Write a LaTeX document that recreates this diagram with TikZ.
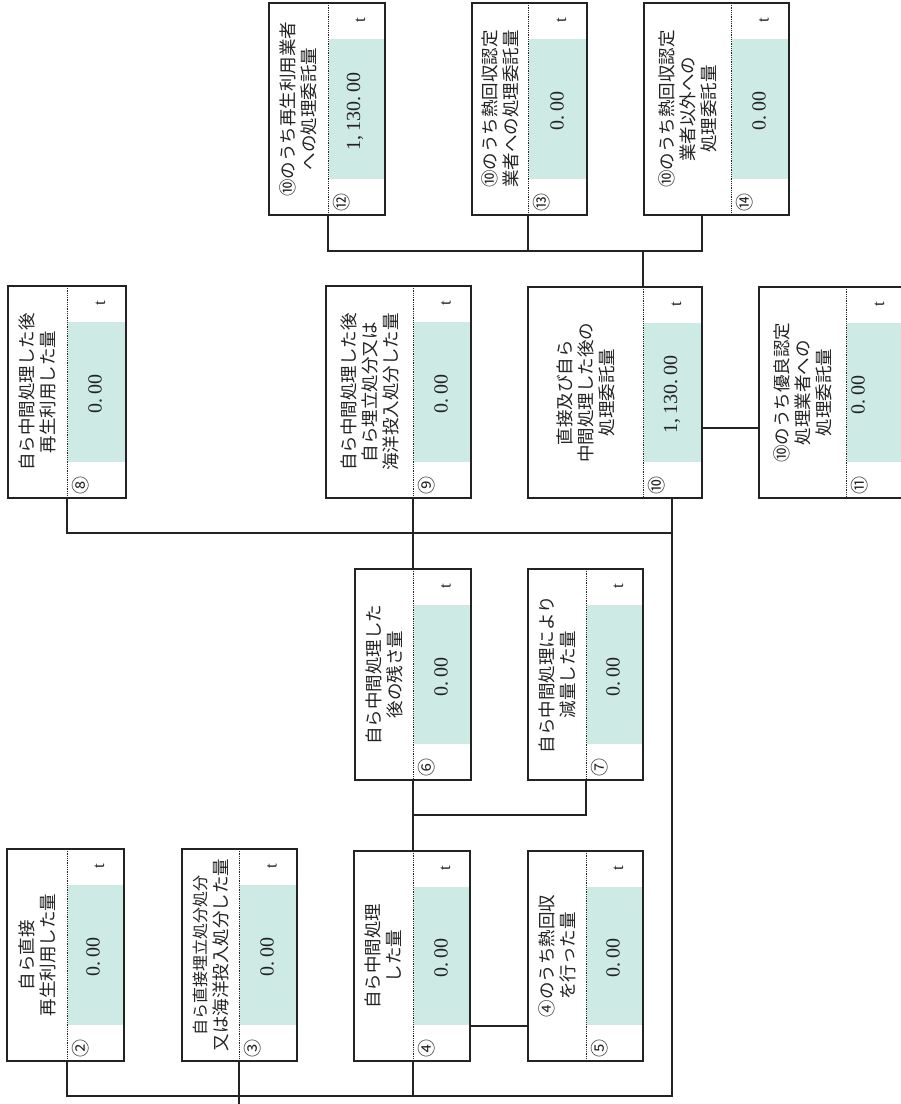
\documentclass[tikz,border=0pt]{standalone}
\usepackage{fontspec}
\newfontfamily\jpf{Noto Sans CJK JP}
\newfontfamily\numf{Liberation Serif}
\usetikzlibrary{fit}
\definecolor{shadec}{RGB}{206,234,228}
\definecolor{inkc}{RGB}{35,35,35}
\tikzset{
 boxst/.style={draw=inkc, line width=1.4pt, inner sep=0pt},
 dotst/.style={draw=inkc, line width=0.8pt, dash pattern=on 0.9pt off 0.9pt},
 titlest/.style={font=\jpf\fontsize{17.5}{21}\selectfont, text=inkc, align=center, inner sep=0pt},
 numst/.style={font=\jpf\fontsize{18}{18}\selectfont, text=inkc, inner sep=0pt},
 valst/.style={font=\numf\fontsize{20}{20}\selectfont, text=inkc, inner sep=0pt},
 unitst/.style={font=\numf\fontsize{17}{17}\selectfont, text=inkc, inner sep=0pt},
 link/.style={draw=inkc, line width=1.3pt},
}
\newcommand{\vzero}{0.\kern4pt00}
\newcommand{\vbig}{1,\kern4pt130.\kern4pt00}
% #1 name, #2 x1, #3 y1, #4 x2, #5 y2, #6 dotted x, #7 circled number, #8 value x, #9 title; value text in \curval
\newcommand{\wbox}[9]{%
 \coordinate (#1d) at (#6,#3);
 \fill[shadec] ({#6+0.6},{#3+36}) rectangle ({#4-0.6},{#5-36});
 \draw[dotst] (#6,#3) -- (#6,#5);
 \node[titlest, rotate=90] (#1t) at ({(#2+#6)/2},{(#3+#5)/2}) {#9};
 \node[numst, rotate=90] (#1n) at ({#6+14},{#5-13}) {#7};
 \node[valst, rotate=90] (#1v) at (#8,{(#3+#5)/2+2}) {\curval};
 \node[unitst, rotate=90] (#1u) at ({(#6+#4)/2+4},{#3+17}) {t};
 \node[boxst, fit={(#2,#3) (#4,#5)}] (#1) {};
}
\begin{document}
\begin{tikzpicture}[x=1pt,y=-1pt]
\useasboundingbox[fill=white] (0,0) rectangle (901,1104);
\let\curval\vzero
\wbox{b2}{7}{849}{124}{1061}{67}{②}{93}{自ら直接\\再生利用した量}
\wbox{b3}{182}{849}{297}{1061}{239}{③}{267}{\fontsize{16}{20}\selectfont 自ら直接埋立処分処分\\又は海洋投入処分した量}
\wbox{b4}{354}{851}{470}{1061}{413}{④}{441}{自ら中間処理\\した量}
\wbox{b5}{528}{851}{643}{1061}{586}{⑤}{613}{④のうち熱回収\\を行った量}
\wbox{b6}{355}{569}{471}{780}{413}{⑥}{441}{自ら中間処理した\\後の残さ量}
\wbox{b7}{528}{569}{643}{780}{586}{⑦}{613}{自ら中間処理により\\減量した量}
\wbox{b8}{8}{286}{126}{498}{67}{⑧}{95}{自ら中間処理した後\\再生利用した量}
\wbox{b9}{326}{286}{471}{498}{413}{⑨}{441}{自ら中間処理した後\\自ら埋立処分又は\\海洋投入処分した量}
\let\curval\vbig
\wbox{b10}{528}{287}{702}{498}{643}{⑩}{672}{直接及び自ら\\中間処理した後の\\処理委託量}
\let\curval\vzero
\wbox{b11}{759}{287}{905}{498}{846}{⑪}{858}{⑩のうち優良認定\\処理業者への\\処理委託量}
\let\curval\vbig
\wbox{b12}{269}{3}{385}{215}{328}{⑫}{355}{⑩のうち再生利用業者\\への処理委託量}
\let\curval\vzero
\wbox{b13}{472}{3}{587}{215}{528}{⑬}{557}{⑩のうち熱回収認定\\業者への処理委託量}
\wbox{b14}{644}{3}{789}{215}{731}{⑭}{759}{⑩のうち熱回収認定\\業者以外への\\処理委託量}
% junctions
\coordinate (jB) at (672,1096);
\coordinate (jM) at (672,533);
\coordinate (j7) at (586,815);
\coordinate (jT) at (702,251);
\coordinate (h45) at (0,1026);
\coordinate (h1011) at (0,428);
\coordinate (inp) at (239,1104);
% connectors
\draw[link] (b10.south -| jB) -- (jB) -| (b2.south -| b2d);
\draw[link] (b3.south -| b3d) -- (inp);
\draw[link] (b4.south -| b4d) -- (b4d |- jB);
\draw[link] (b4.east |- h45) -- (b5.west |- h45);
\draw[link] (b4.north -| b4d) -- (b6.south -| b6d);
\draw[link] (b7.south -| b7d) -- (j7) -- (b6d |- j7);
\draw[link] (b6.north -| b6d) -- (b9.south -| b9d);
\draw[link] (b8.south -| b8d) |- (jM);
\draw[link] (b10.east |- h1011) -- (b11.west |- h1011);
\draw[link] (b10.north -| b10d) -- (b10d |- jT);
\draw[link] (b12.south -| b12d) |- (jT) -- (b14.south -| jT);
\draw[link] (b13.south -| b13d) -- (b13d |- jT);
\end{tikzpicture}
\end{document}
